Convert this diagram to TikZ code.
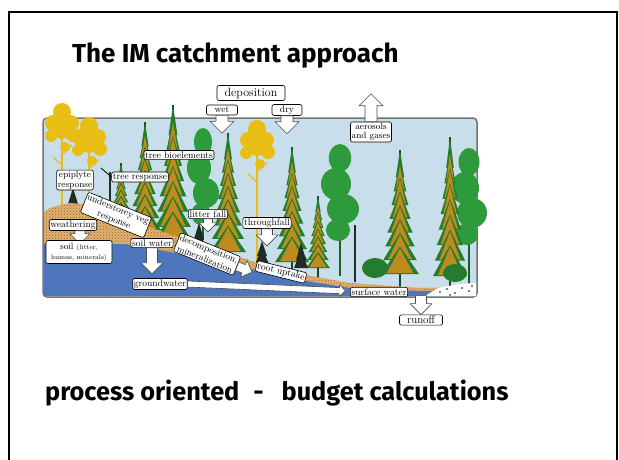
\documentclass[tikz,border=0pt]{standalone}
\usepackage{fontspec}
\newfontfamily\slidefont{Fira Sans}
\usetikzlibrary{positioning, patterns}

\definecolor{sky}{RGB}{200,222,234}
\definecolor{pine}{RGB}{35,125,45}
\definecolor{bark}{RGB}{25,70,30}
\definecolor{ochre}{RGB}{190,140,30}
\definecolor{gold}{RGB}{232,190,20}
\definecolor{leaf}{RGB}{45,155,60}
\definecolor{spruce}{RGB}{30,45,35}
\definecolor{soil}{RGB}{226,178,112}
\definecolor{soildot}{RGB}{150,100,45}
\definecolor{water}{RGB}{78,118,188}

\begin{document}
\begin{tikzpicture}[x=1pt, y=-1pt]
\tikzset{
  lbl/.style={
    draw,
    fill=white,
    rounded corners=2pt,
    inner sep=1.2pt,
    line width=0.6pt,
    align=center,
    font=\fontsize{9.5}{11}\selectfont
  },
  flowline/.style={draw=black!70, fill=white, line width=0.6pt, line join=round},
  pics/blockarrow/.style 2 args={code={
    \draw[flowline] (-#2/2,0) -- (-#2/2,#1-#2) -- (-#2,#1-#2) -- (0,#1) -- (#2,#1-#2) -- (#2/2,#1-#2) -- (#2/2,0) -- cycle;
  }},
  slidetext/.style={anchor=base west, inner sep=0pt, font=\slidefont\bfseries\fontsize{26}{28}\selectfont}
}
\useasboundingbox (0,0) rectangle (619,459);

% Slide frame and texts
\draw[line width=2.5pt] (9,470) -- (9,12) -- (617,12) -- (617,470);
\node[slidetext] (title) at (72,62) {The IM catchment approach};
\node[slidetext, font=\slidefont\bfseries\fontsize{25.3}{27}\selectfont] (summary) at (45,400)
  {process oriented\hspace{14pt}-\hspace{18pt}budget calculations};

% Catchment panel
\draw[draw=black!55, line width=1.5pt, fill=sky, rounded corners=4pt] (43,118) rectangle (477,297);

% Yellow pines
\foreach \yx/\yt/\yb in {62/103/205, 89/117/203, 257/120/262}{
  \draw[gold, line width=2.2pt] (\yx,\yt+12) -- (\yx,\yb);
  \draw[gold, line width=1.2pt] (\yx,\yt+52) -- (\yx+10,\yt+42) (\yx,\yt+62) -- (\yx-9,\yt+54);
  \fill[gold] (\yx,\yt+9) circle (9pt) (\yx-9,\yt+20) circle (8pt) (\yx+9,\yt+20) circle (8pt)
    (\yx-11,\yt+33) circle (6pt) (\yx+11,\yt+32) circle (7pt) (\yx,\yt+28) circle (8pt) (\yx+3,\yt+44) circle (5pt);
}

% Birches
\foreach \gx/\gt/\gb/\gw in {203/128/240/12, 340/144/276/15, 469/148/285/14}{
  \draw[leaf!60!black, line width=1.5pt] (\gx,\gt+20) -- (\gx,\gb);
  \fill[leaf] (\gx,\gt+14) ellipse (0.75*\gw pt and 14pt) (\gx-4,\gt+40) ellipse (\gw pt and 16pt)
    (\gx+3,\gt+65) ellipse (\gw pt+1pt and 15pt) (\gx-2,\gt+86) ellipse (0.8*\gw pt and 11pt);
}

% Spruces
\foreach \cx/\ct/\cb/\cw in {121/163/222/11, 145/122/230/16, 173/105/242/20, 228/133/252/18,
    292/147/262/17, 318/196/268/12, 400/150/274/19, 450/137/276/17}{
  \pgfmathsetmacro\ch{(\cb-\ct)/9}
  \draw[bark, line width=1.2pt] (\cx,\ct) -- (\cx,\cb+16);
  \foreach \k in {0,...,7}{
    \pgfmathsetmacro\hw{\cw*(\k+2)/9}
    \fill[pine] (\cx,\ct+\k*\ch) -- (\cx-\hw,\ct+\k*\ch+2*\ch) -- (\cx+\hw,\ct+\k*\ch+2*\ch) -- cycle;
    \ifnum\k>0
      \fill[ochre] (\cx,\ct+\k*\ch+2) -- (\cx-0.7*\hw,\ct+\k*\ch+2*\ch-1) -- (\cx+0.7*\hw,\ct+\k*\ch+2*\ch-1) -- cycle;
    \fi
  }
}

% Understorey
\foreach \dx/\dt/\db in {73/188/212, 100/195/213, 199/223/247, 262/241/264, 301/243/268}{
  \fill[spruce] (\dx,\dt) -- (\dx-5,\db-8) -- (\dx+5,\db-8) -- cycle (\dx,\dt+7) -- (\dx-7,\db) -- (\dx+7,\db) -- cycle;
}
\draw[spruce, line width=1.2pt] (110,172) -- (110,240) (355,225) -- (355,282);
\fill[leaf!80!black] (375,268) ellipse (13pt and 10pt) (455,273) ellipse (12pt and 9pt);

% Soil and water
\fill[soil, postaction={pattern=crosshatch dots, pattern color=soildot}] (44,212) -- (52,207) -- (70,203) -- (95,205) -- (115,213)
  -- (140,224) -- (175,236) -- (215,249) -- (255,262) -- (300,274) -- (350,283) -- (420,288) -- (476,287) -- (476,296) -- (44,296) -- cycle;
\fill[water] (44,244) -- (125,244) -- (165,251) -- (210,260) -- (255,270) -- (300,280) -- (350,288) -- (420,291) -- (476,290)
  -- (476,296) -- (44,296) -- cycle;
\fill[white] (425,296) -- (438,288) -- (458,284) -- (476,283) -- (476,296) -- cycle;
\foreach \p in {(440,292), (447,289), (455,293), (462,288), (469,291), (450,295), (472,286)}
  \fill \p circle (0.8pt);

% Deposition
\node[lbl, minimum width=68pt, minimum height=15pt, font=\fontsize{12}{12}\selectfont] (depo) at (251,93) {deposition};
\node[lbl, minimum width=31pt, minimum height=10pt] (wet) at (222,110) {wet};
\node[lbl, minimum width=30pt, minimum height=10pt] (dry) at (287,110) {dry};
\pic at (wet.south) {blockarrow={18}{12}};
\pic at (dry.south) {blockarrow={18}{12}};
\node[lbl, font=\fontsize{9}{9.5}\selectfont] (aero) at (371,132) {aerosols\\and gases};
\pic[rotate=180] at (aero.north) {blockarrow={28}{12}};

% Vegetation labels
\node[lbl] (bioel) at (179,155) {tree bioelements};
\node[lbl, font=\fontsize{9}{9.5}\selectfont] (epi) at (75,180) {epiplyte\\response};
\node[lbl] (tresp) at (140,177) {tree response};
\coordinate (trespTip) at (101,168);
\draw[line width=0.8pt] (tresp.west) -- (trespTip);
\node[lbl, rotate=-22] (under) at (116,215) {understorey veg\\response};

% Soil processes
\node[lbl] (weath) at (73,225) {weathering};
\pic at ([xshift=7pt]weath.south) {blockarrow={13}{10}};
\node[lbl, minimum width=66pt, minimum height=23pt, font=\fontsize{9}{9.5}\selectfont] (soil) at (79,252)
  {soil {\fontsize{6.5}{7}\selectfont (litter,}\\{\fontsize{6.5}{7}\selectfont humus, minerals)}};
\node[lbl] (litter) at (208,214) {litter fall};
\pic at (litter.south) {blockarrow={13}{9}};
\node[lbl] (thrfall) at (267,223) {throughfall};
\pic at (thrfall.south) {blockarrow={17}{11}};
\node[lbl] (soilw) at (152,243) {soil water};
\pic at (soilw.south) {blockarrow={26}{11}};
\node[lbl, rotate=-22] (decomp) at (207,254) {decomposition,\\mineralization};
\pic[rotate=68] at (decomp.east) {blockarrow={16}{9}};
\node[lbl, rotate=-14] (roots) at (281,272) {root uptake};

% Water flows
\node[lbl] (gw) at (160,284) {groundwater};
\node[lbl] (sw) at (379,292) {surface water};
\pic[rotate=87.5] at (gw.east) {blockarrow={158}{6}};
\node[lbl, font=\fontsize{11}{11}\selectfont, minimum width=43pt] (runoff) at (421,320) {runoff};
\pic at ([yshift=19pt]runoff.north) {blockarrow={19}{11}};

\end{tikzpicture}
\end{document}
